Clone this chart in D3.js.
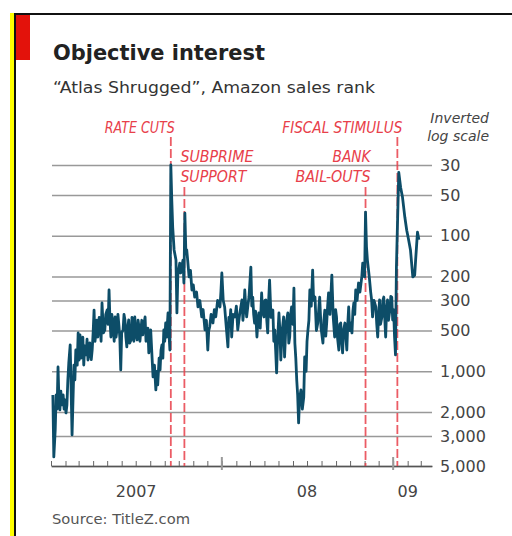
<!DOCTYPE html>
<html>
<head>
<meta charset="utf-8">
<style>
  html, body { margin: 0; padding: 0; background: #fff; }
  svg { display: block; }
</style>
</head>
<body>
<div id="chart"></div>
<script src="https://d3js.org/d3.v7.min.js"></script>
<script>
    // "Atlas Shrugged" Amazon sales rank
    const dates = [
        '2007-01-05', '2007-01-07', '2007-01-10', '2007-01-12', '2007-01-14', '2007-01-16', '2007-01-18', '2007-01-20',
        '2007-01-22', '2007-01-24', '2007-01-27', '2007-01-29', '2007-01-31', '2007-02-02', '2007-02-04', '2007-02-06',
        '2007-02-08', '2007-02-11', '2007-02-13', '2007-02-15', '2007-02-17', '2007-02-19', '2007-02-21', '2007-02-23',
        '2007-02-26', '2007-02-28', '2007-03-02', '2007-03-04', '2007-03-06', '2007-03-08', '2007-03-10', '2007-03-12',
        '2007-03-14', '2007-03-17', '2007-03-19', '2007-03-21', '2007-03-23', '2007-03-25', '2007-03-28', '2007-03-30',
        '2007-04-01', '2007-04-03', '2007-04-05', '2007-04-07', '2007-04-09', '2007-04-11', '2007-04-14', '2007-04-16',
        '2007-04-18', '2007-04-20', '2007-04-23', '2007-04-26', '2007-04-28', '2007-05-01', '2007-05-03', '2007-05-05',
        '2007-05-07', '2007-05-09', '2007-05-11', '2007-05-13', '2007-05-16', '2007-05-18', '2007-05-20', '2007-05-22',
        '2007-05-24', '2007-05-26', '2007-05-28', '2007-05-30', '2007-06-01', '2007-06-04', '2007-06-06', '2007-06-08',
        '2007-06-10', '2007-06-12', '2007-06-14', '2007-06-16', '2007-06-18', '2007-06-21', '2007-06-23', '2007-06-25',
        '2007-06-27', '2007-06-29', '2007-07-01', '2007-07-04', '2007-07-06', '2007-07-08', '2007-07-10', '2007-07-12',
        '2007-07-14', '2007-07-16', '2007-07-18', '2007-07-21', '2007-07-23', '2007-07-25', '2007-07-27', '2007-07-29',
        '2007-07-31', '2007-08-02', '2007-08-05', '2007-08-07', '2007-08-10', '2007-08-13', '2007-08-15', '2007-08-17',
        '2007-08-20', '2007-08-22', '2007-08-24', '2007-08-26', '2007-08-28', '2007-08-30', '2007-09-01', '2007-09-03',
        '2007-09-05', '2007-09-08', '2007-09-10', '2007-09-12', '2007-09-14', '2007-09-16', '2007-09-18', '2007-09-21',
        '2007-09-25', '2007-09-27', '2007-09-29', '2007-10-03', '2007-10-05', '2007-10-10', '2007-10-12', '2007-10-14',
        '2007-10-16', '2007-10-18', '2007-10-20', '2007-10-23', '2007-10-26', '2007-10-29', '2007-11-01', '2007-11-04',
        '2007-11-08', '2007-11-11', '2007-11-15', '2007-11-19', '2007-11-22', '2007-11-26', '2007-11-29', '2007-12-02',
        '2007-12-04', '2007-12-06', '2007-12-09', '2007-12-13', '2007-12-16', '2007-12-19', '2007-12-23', '2007-12-28',
        '2007-12-30', '2008-01-01', '2008-01-04', '2008-01-07', '2008-01-10', '2008-01-14', '2008-01-16', '2008-01-18',
        '2008-01-20', '2008-01-22', '2008-01-25', '2008-01-29', '2008-02-01', '2008-02-04', '2008-02-08', '2008-02-13',
        '2008-02-15', '2008-02-17', '2008-02-19', '2008-02-21', '2008-02-23', '2008-02-26', '2008-02-28', '2008-03-03',
        '2008-03-05', '2008-03-07', '2008-03-09', '2008-03-11', '2008-03-13', '2008-03-16', '2008-03-18', '2008-03-20',
        '2008-03-23', '2008-03-26', '2008-03-28', '2008-03-31', '2008-04-02', '2008-04-04', '2008-04-06', '2008-04-08',
        '2008-04-10', '2008-04-12', '2008-04-15', '2008-04-19', '2008-04-21', '2008-04-23', '2008-04-25', '2008-04-27',
        '2008-04-29', '2008-05-02', '2008-05-04', '2008-05-06', '2008-05-09', '2008-05-12', '2008-05-14', '2008-05-17',
        '2008-05-21', '2008-05-23', '2008-05-25', '2008-05-27', '2008-05-29', '2008-06-01', '2008-06-03', '2008-06-05',
        '2008-06-07', '2008-06-09', '2008-06-11', '2008-06-13', '2008-06-15', '2008-06-18', '2008-06-21', '2008-06-24',
        '2008-06-26', '2008-06-29', '2008-07-01', '2008-07-03', '2008-07-05', '2008-07-07', '2008-07-10', '2008-07-13',
        '2008-07-15', '2008-07-18', '2008-07-21', '2008-07-24', '2008-07-26', '2008-07-28', '2008-07-31', '2008-08-04',
        '2008-08-06', '2008-08-08', '2008-08-10', '2008-08-12', '2008-08-14', '2008-08-16', '2008-08-19', '2008-08-23',
        '2008-08-26', '2008-08-29', '2008-08-31', '2008-09-02', '2008-09-04', '2008-09-07', '2008-09-09', '2008-09-11',
        '2008-09-13', '2008-09-15', '2008-09-17', '2008-09-20', '2008-09-22', '2008-09-24', '2008-09-26', '2008-09-28',
        '2008-09-30', '2008-10-02', '2008-10-05', '2008-10-07', '2008-10-09', '2008-10-11', '2008-10-13', '2008-10-16',
        '2008-10-19', '2008-10-22', '2008-10-26', '2008-10-28', '2008-11-01', '2008-11-03', '2008-11-05', '2008-11-07',
        '2008-11-11', '2008-11-14', '2008-11-16', '2008-11-18', '2008-11-21', '2008-11-25', '2008-11-27', '2008-11-29',
        '2008-12-01', '2008-12-03', '2008-12-05', '2008-12-08', '2008-12-10', '2008-12-12', '2008-12-14', '2008-12-16',
        '2008-12-18', '2008-12-20', '2008-12-22', '2008-12-25', '2008-12-27', '2008-12-29', '2008-12-31', '2009-01-02',
        '2009-01-04', '2009-01-06', '2009-01-08', '2009-01-13', '2009-01-17', '2009-01-21', '2009-01-26', '2009-01-30',
        '2009-02-03', '2009-02-07', '2009-02-12', '2009-02-16', '2009-02-18', '2009-02-22', '2009-02-25'
    ];
    const ranks = [
        1495, 4287, 2709, 1495, 1900, 929, 1628, 1929,
        1400, 1772, 1495, 1900, 1628, 2030, 1772, 1158,
        868, 639, 1373, 2949, 1628, 900, 1158, 696,
        900, 521, 825, 539, 800, 696, 560, 898,
        650, 757, 580, 825, 700, 618, 820, 696,
        520, 353, 600, 521, 420, 558, 400, 455,
        600, 313, 520, 495, 380, 353, 450, 251,
        420, 558, 380, 440, 600, 397, 560, 495,
        380, 455, 560, 977, 520, 495, 380, 418,
        560, 661, 470, 418, 620, 587, 400, 440,
        600, 397, 520, 587, 420, 471, 600, 495,
        420, 539, 460, 397, 600, 558, 480, 732,
        600, 495, 800, 1101, 900, 1373, 1000, 1261,
        800, 977, 700, 639, 800, 495, 600, 440,
        560, 371, 520, 696, 30, 54, 86, 127,
        151, 371, 195, 159, 188, 151, 223, 68,
        127, 127, 151, 201, 180, 251, 230, 283,
        260, 335, 300, 397, 350, 495, 420, 696,
        500, 471, 380, 440, 350, 397, 300, 335,
        260, 188, 300, 335, 450, 661, 400, 440,
        350, 558, 380, 397, 330, 495, 380, 297,
        420, 353, 251, 330, 397, 320, 283, 170,
        330, 283, 380, 440, 360, 558, 420, 371,
        480, 264, 360, 397, 300, 297, 420, 521,
        300, 212, 400, 353, 600, 495, 700, 1028,
        600, 371, 500, 825, 500, 397, 784, 450,
        371, 620, 558, 380, 335, 450, 243, 618,
        800, 1158, 1500, 2405, 1600, 1373, 1900, 1547,
        784, 1000, 600, 495, 420, 251, 330, 179,
        300, 283, 500, 440, 350, 283, 480, 618,
        420, 353, 550, 440, 330, 264, 380, 195,
        400, 558, 350, 397, 560, 696, 450, 440,
        600, 732, 500, 440, 560, 696, 450, 335,
        500, 440, 521, 360, 313, 380, 251, 300,
        223, 260, 201, 159, 201, 67, 120, 151,
        201, 260, 297, 397, 300, 335, 450, 558,
        380, 297, 450, 397, 300, 283, 400, 558,
        350, 297, 420, 353, 280, 283, 418, 350,
        558, 757, 170, 34, 44, 52, 73, 91,
        107, 127, 201, 195, 151, 94, 107
    ];

    const tickValues = [30, 50, 100, 200, 300, 500, 1000, 2000, 3000, 5000];
    const yearLabels = ['2007', '08', '09'];
    const yearLabelDates = ['2007-07-02', '2008-07-01', '2009-02-01'];
    const yearStarts = ['2008-01-01', '2009-01-01'];

    const eventLabels = [['RATE CUTS'], ['SUBPRIME', 'SUPPORT'], ['BANK', 'BAIL-OUTS'], ['FISCAL STIMULUS']];
    const eventDates = ['2007-09-14', '2007-10-13', '2008-11-03', '2009-01-10'];

    const parse = d3.utcParse('%Y-%m-%d');
    const series = dates.map((d, i) => ({ date: parse(d), rank: ranks[i] }));

    const W = 512, H = 536;
    const svg = d3.select('#chart').append('svg')
        .attr('width', W)
        .attr('height', H);

    // frame: yellow strip, black rule, red tab
    svg.append('rect').attr('x', 10).attr('y', 13).attr('width', 4).attr('height', H - 13).attr('fill', '#ffff00');
    svg.append('rect').attr('x', 14).attr('y', 13).attr('width', W - 14).attr('height', 2).attr('fill', '#111');
    svg.append('rect').attr('x', 14).attr('y', 13).attr('width', 2).attr('height', H - 13).attr('fill', '#111');
    svg.append('rect').attr('x', 16).attr('y', 15).attr('width', 14).attr('height', 45).attr('fill', '#e3120b');

    svg.append('text')
        .attr('x', 53).attr('y', 60)
        .attr('font-family', 'DejaVu Sans, sans-serif')
        .attr('font-weight', 'bold')
        .attr('font-size', 22)
        .attr('fill', '#222')
        .attr('textLength', 212).attr('lengthAdjust', 'spacingAndGlyphs')
        .text('Objective interest');

    svg.append('text')
        .attr('x', 53).attr('y', 93)
        .attr('font-family', 'DejaVu Sans, sans-serif')
        .attr('font-size', 16)
        .attr('fill', '#333')
        .attr('textLength', 322).attr('lengthAdjust', 'spacingAndGlyphs')
        .text('\u201CAtlas Shrugged\u201D, Amazon sales rank');

    const x = d3.scaleUtc()
        .domain([parse('2007-01-01'), parse('2009-03-25')])
        .range([51, 432]);

    const y = d3.scaleLog()
        .domain([30, 5000])
        .range([165, 466]);

    const plotLeft = 52, plotRight = 432;

    // horizontal grid
    svg.append('g')
        .attr('transform', `translate(${plotLeft},0)`)
        .call(d3.axisRight(y).tickValues(tickValues).tickSize(plotRight - plotLeft).tickFormat(''))
        .call(g => g.select('.domain').remove())
        .call(g => g.selectAll('.tick line').attr('stroke', '#999').attr('stroke-width', 1.5));

    // tick labels on the right
    svg.append('g')
        .attr('transform', 'translate(432,0)')
        .call(d3.axisRight(y).tickValues(tickValues).tickSize(0).tickPadding(8).tickFormat(d3.format(',')))
        .call(g => g.select('.domain').remove())
        .call(g => g.selectAll('text')
            .attr('font-family', 'DejaVu Sans, sans-serif')
            .attr('font-size', 16)
            .attr('fill', '#444'));

    svg.append('g')
        .attr('font-family', 'DejaVu Sans, sans-serif')
        .attr('font-style', 'italic')
        .attr('font-size', 14)
        .attr('fill', '#444')
        .attr('text-anchor', 'end')
        .selectAll('text')
        .data(['Inverted', 'log scale'])
        .join('text')
        .attr('x', 489)
        .attr('y', (d, i) => 123 + i * 18)
        .text(d => d);

    // x axis with monthly ticks
    const axisY = 466;
    svg.append('g')
        .attr('transform', `translate(0,${axisY})`)
        .call(d3.axisBottom(x)
            .ticks(d3.utcMonth.every(1))
            .tickSize(-5)
            .tickSizeOuter(0)
            .tickFormat(''))
        .call(g => g.select('.domain').attr('stroke', '#555').attr('stroke-width', 1.4))
        .call(g => g.selectAll('.tick line').attr('stroke', '#666').attr('stroke-width', 1));

    svg.append('g')
        .selectAll('line')
        .data(yearStarts)
        .join('line')
        .attr('x1', d => x(parse(d))).attr('x2', d => x(parse(d)))
        .attr('y1', axisY - 9).attr('y2', axisY + 4)
        .attr('stroke', '#999').attr('stroke-width', 2);

    svg.append('g')
        .attr('font-family', 'DejaVu Sans, sans-serif')
        .attr('font-size', 16)
        .attr('fill', '#444')
        .attr('text-anchor', 'middle')
        .selectAll('text')
        .data(yearLabels)
        .join('text')
        .attr('x', (d, i) => x(parse(yearLabelDates[i])))
        .attr('y', 497)
        .text(d => d);

    // event markers
    const red = '#e8404a';
    const eventStyle = [
        { anchor: 'end', dx: 4, top: 137, lens: [70] },
        { anchor: 'start', dx: -4, top: 187, lens: [73, 66] },
        { anchor: 'end', dx: 5, top: 187, lens: [38, 75] },
        { anchor: 'end', dx: 5, top: 137, lens: [120] }
    ];

    eventDates.forEach((d, i) => {
        const ex = x(parse(d));
        const st = eventStyle[i];
        svg.append('line')
            .attr('x1', ex).attr('x2', ex)
            .attr('y1', st.top).attr('y2', axisY)
            .attr('stroke', red)
            .attr('stroke-opacity', 0.85)
            .attr('stroke-width', 1.8)
            .attr('stroke-dasharray', '9,3');
        eventLabels[i].forEach((t, j) => {
            svg.append('text')
                .attr('x', ex + st.dx)
                .attr('y', (st.top === 137 ? 133 : 162) + j * 20)
                .attr('text-anchor', st.anchor)
                .attr('font-family', 'DejaVu Sans Condensed, Liberation Sans Narrow, DejaVu Sans, sans-serif')
                .attr('font-style', 'italic')
                .attr('font-size', 16)
                .attr('fill', red)
                .attr('textLength', st.lens[j]).attr('lengthAdjust', 'spacingAndGlyphs')
                .text(t);
        });
    });

    // the sales-rank line
    const line = d3.line()
        .x(d => x(d.date))
        .y(d => y(d.rank));

    svg.append('path')
        .datum(series)
        .attr('fill', 'none')
        .attr('stroke', '#0d4d68')
        .attr('stroke-width', 2.8)
        .attr('stroke-linejoin', 'round')
        .attr('d', line);

    svg.append('text')
        .attr('x', 52).attr('y', 524)
        .attr('font-family', 'DejaVu Sans, sans-serif')
        .attr('font-size', 14)
        .attr('fill', '#555')
        .attr('textLength', 138).attr('lengthAdjust', 'spacingAndGlyphs')
        .text('Source: TitleZ.com');
</script>
</body>
</html>
